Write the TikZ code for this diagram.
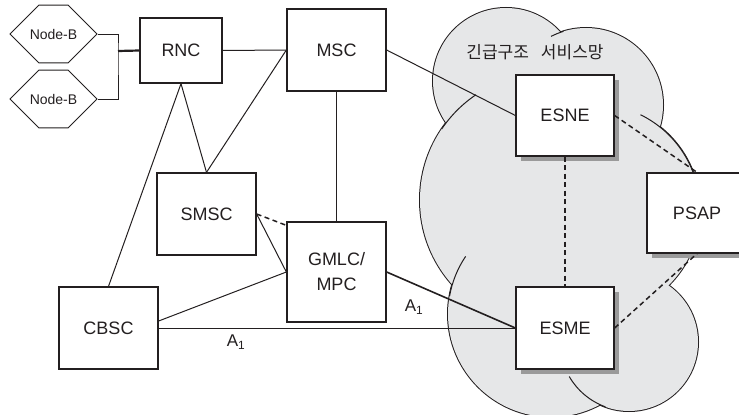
\documentclass[tikz,border=0pt]{standalone}
\usepackage{fontspec}
\setmainfont{Liberation Sans}
\newfontfamily\kr{Noto Sans CJK KR}
\usetikzlibrary{shapes.misc, shadows}
\definecolor{ink}{HTML}{231F20}
\definecolor{cloudfill}{HTML}{E6E7E8}
\definecolor{shade}{HTML}{9A9A9A}

\begin{document}
\begin{tikzpicture}[x=1pt, y=-1pt, text=ink,
      bx/.style={draw=ink, line width=1.3pt, fill=white, minimum width=99pt, minimum height=82pt, inner sep=0pt, align=center, font=\fontsize{18}{25}\selectfont},
      sh/.style={general shadow={fill=shade, shadow xshift=5pt, shadow yshift=-5pt}},
      nb/.style={chamfered rectangle, chamfered rectangle xsep=23pt, chamfered rectangle ysep=24pt, draw=ink, line width=1pt, fill=white, minimum width=87pt, minimum height=48pt, inner sep=0pt, font=\fontsize{14}{16}\selectfont},
      ln/.style={draw=ink, line width=1pt},
      dl/.style={draw=ink, line width=1.5pt, dash pattern=on 5pt off 3.5pt},
      lab/.style={font=\fontsize{17}{20}\selectfont, inner sep=0pt}]
    \useasboundingbox (0,0) rectangle (739,415);
    \clip (0,0) rectangle (739,415);

    % cloud
    \foreach \cx/\cy/\r in {506/81/73, 586/105/77, 547/200/127, 594/210/106, 551/314/103, 629/342/69}
      \draw[ink, line width=2pt] (\cx,\cy) circle (\r);
    \foreach \cx/\cy/\r in {506/81/73, 586/105/77, 547/200/127, 594/210/106, 551/314/103, 629/342/69}
      \fill[cloudfill] (\cx,\cy) circle (\r);
    \foreach \cx/\cy/\r/\a/\b in {547/200/127/236/214, 551/314/103/214/190, 629/342/69/150/110, 594/210/106/-64/-10, 586/105/77/-117/-107}
      \draw[ln] (\cx,\cy) ++(\a:\r) arc[start angle=\a, end angle=\b, radius=\r];
    \node[font=\kr\fontsize{17}{20}\selectfont] (net) at (535,52) {긴급구조\hspace{12pt}서비스망};

    % nodes
    \node[nb] (nb1) at (53.5,34) {Node-B};
    \node[nb] (nb2) at (53.5,99) {Node-B};
    \coordinate (bus) at (118,51);
    \node[bx, minimum width=82pt, minimum height=65pt] (rnc) at (181,50.5) {RNC};
    \node[bx] (msc) at (336.5,50) {MSC};
    \node[bx] (smsc) at (206.5,214) {SMSC};
    \node[bx, minimum height=100pt] (gmlc) at (336.5,272) {GMLC/\\MPC};
    \node[bx] (cbsc) at (108.5,328) {CBSC};
    \node[bx, sh, minimum width=98pt, minimum height=81pt] (esne) at (565,115.5) {ESNE};
    \node[bx, sh, minimum width=98pt] (esme) at (565,328) {ESME};
    \node[bx, sh, minimum width=100pt, minimum height=80pt] (psap) at (697,213) {PSAP};

    % links
    \draw[ln] (nb1.east) -| (bus) |- (nb2.east);
    \draw[draw=ink, line width=2.2pt] (bus) -- (rnc.west);
    \draw[ln] (rnc.east) -- (msc.west);
    \draw[ln] (msc.west) -- (smsc.north);
    \draw[ln] (rnc.south) -- (smsc.north);
    \draw[ln] (rnc.south) -- (cbsc.north);
    \draw[ln] (msc.south) -- (gmlc.north);
    \draw[ln] (msc.east) -- (esne.west);
    \draw[ln] (smsc.east) -- (gmlc.west);
    \draw[dl] (smsc.east) -- ([yshift=-4pt]gmlc.north west);
    \draw[ln] ([yshift=7pt]cbsc.east) -- (gmlc.west);
    \draw[ln] (cbsc.east) -- (esme.west);
    \draw[draw=ink, line width=1.6pt] (gmlc.east) -- (esme.west);
    \draw[dl] (esne.south) -- (esme.north);
    \draw[dl] (esne.east) -- (psap.north);
    \draw[dl] (esme.east) -- (psap.south);
    \node[lab] (a1) at (236,342) {A\textsubscript{1}};
    \node[lab] (a2) at (414,307) {A\textsubscript{1}};
  \end{tikzpicture}
\end{document}
